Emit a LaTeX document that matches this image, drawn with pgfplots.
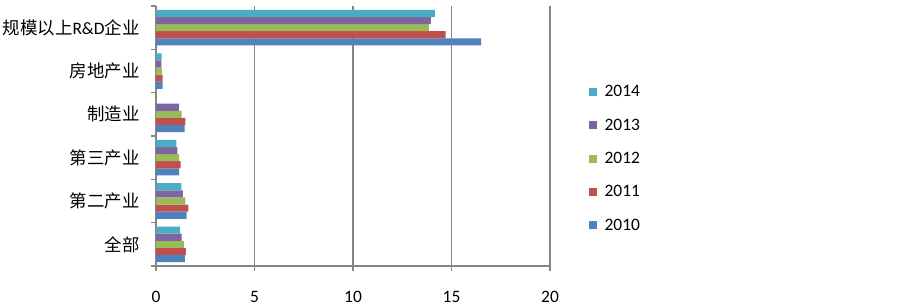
\documentclass[border=0pt]{standalone}
\usepackage{pgfplots}
\pgfplotsset{compat=1.18}
\usepackage{fontspec}
\setmainfont{Carlito}
\newfontfamily\cjk{Noto Sans CJK SC}
\definecolor{c2010}{HTML}{4F81BD}
\definecolor{c2011}{HTML}{C0504D}
\definecolor{c2012}{HTML}{9BBB59}
\definecolor{c2013}{HTML}{8064A2}
\definecolor{c2014}{HTML}{4BACC6}
\definecolor{axgray}{HTML}{868686}
\pgfplotsset{sqlegend/.style={legend image code/.code={\fill[##1] (1bp,-4bp) rectangle (9bp,4bp); \path (15bp,0bp);}}}
\begin{document}
\begin{tikzpicture}
\useasboundingbox (0,0) rectangle (900bp,306bp);
\begin{axis}[
  at={(156bp,40bp)}, anchor=south west,
  scale only axis, width=394bp, height=260bp,
  xbar=0pt, bar width=7.1bp,
  xmin=0, xmax=20, ymin=-0.5, ymax=5.5,
  xtick={0,5,10,15,20},
  ytick={0,1,2,3,4,5},
  yticklabels={{\cjk 全部},{\cjk 第二产业},{\cjk 第三产业},{\cjk 制造业},{\cjk 房地产业},{\cjk 规模以上}R\&D{\cjk 企业}},
  minor ytick={-0.5,0.5,1.5,2.5,3.5,4.5,5.5},
  axis x line*=bottom, axis y line*=left,
  axis line style={draw=axgray, line width=1.4bp},
  xmajorgrids, grid style={draw=axgray, line width=1.6bp},
  tick align=outside,
  major tick length=5bp, minor tick length=5bp,
  tick style={draw=axgray, line width=1.2bp},
  major y tick style={draw=none},
  font=\fontsize{17.5}{21}\selectfont,
  ticklabel style={font=\fontsize{17.5}{21}\selectfont, text=black},
  /pgf/number format/assume math mode=true,
  xticklabel style={inner sep=0pt, yshift=-20bp},
  yticklabel style={xshift=-8bp},
  legend style={at={(1.09,0.71)}, anchor=north west, draw=none, fill=none,
    row sep=16.5bp, font=\fontsize{17.5}{21}\selectfont},
  legend cell align=left,
  reverse legend,
]
\addplot[fill=c2010, draw=none, sqlegend] coordinates {(1.46,0) (1.56,1) (1.17,2) (1.45,3) (0.34,4) (16.5,5)};
\addplot[fill=c2011, draw=none, sqlegend] coordinates {(1.52,0) (1.64,1) (1.25,2) (1.49,3) (0.34,4) (14.7,5)};
\addplot[fill=c2012, draw=none, sqlegend] coordinates {(1.42,0) (1.49,1) (1.17,2) (1.30,3) (0.30,4) (13.85,5)};
\addplot[fill=c2013, draw=none, sqlegend] coordinates {(1.30,0) (1.37,1) (1.08,2) (1.18,3) (0.27,4) (13.95,5)};
\addplot[fill=c2014, draw=none, sqlegend] coordinates {(1.22,0) (1.29,1) (1.03,2) (0.29,4) (14.15,5)};
\legend{2010,2011,2012,2013,2014}
\end{axis}
\end{tikzpicture}
\end{document}
